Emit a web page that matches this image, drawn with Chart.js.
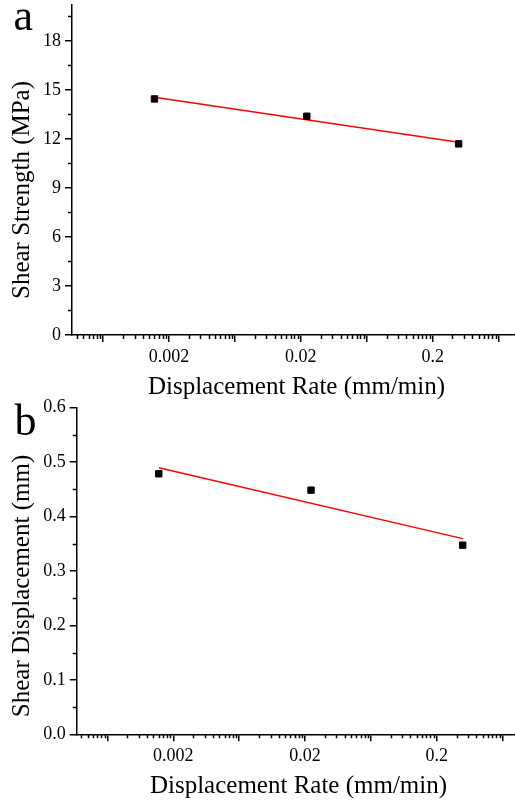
<!DOCTYPE html>
<html>
<head>
<meta charset="utf-8">
<script src="https://cdn.jsdelivr.net/npm/chart.js@4.4.1/dist/chart.umd.min.js"></script>
<style>
  body { margin: 0; background: #fff; }
  .panel { position: relative; width: 515px; height: 400px; }
  .panel.lower { height: 420px; margin-top: -20px; }
</style>
</head>
<body>
<div class="panel"><canvas id="chartA"></canvas></div>
<div class="panel lower"><canvas id="chartB"></canvas></div>
<script>
// displacement rates (mm/min)
const rates = [0.00155, 0.0222, 0.315]
const fitRates = [0.00155, 0.315]

// panel a
const shearStrength = [14.45, 13.39, 11.70]
const strengthFit = [14.55, 11.80]
const strengthTicks = [0, 3, 6, 9, 12, 15, 18]

// panel b
const shearDisp = [0.478, 0.448, 0.347]
const dispFit = [0.489, 0.359]
const dispTicks = [0.0, 0.1, 0.2, 0.3, 0.4, 0.5, 0.6]

// x axis ticks (every half decade, labels only on decades)
const xMajorTicks = [0.000632, 0.002, 0.00632, 0.02, 0.0632, 0.2, 0.632]
const xTickLabels = ['', '0.002', '', '0.02', '', '0.2', '']

const FONT = '"Liberation Serif", "Times New Roman", serif'

// minor ticks on the x axis, log-spaced inside each half decade
const xMinor = []
;[0.0002].concat(xMajorTicks).forEach(a => {
  for (let k = 2; k <= 9; k++) xMinor.push(a * Math.sqrt(k))
})

const between = (ticks) => ticks.slice(0, -1).map((t, i) => (t + ticks[i + 1]) / 2)
  .concat([ticks[ticks.length - 1] + (ticks[1] - ticks[0]) / 2])

const minorTicks = {
  id: 'minorTicks',
  afterDraw(chart, args, o) {
    const { ctx, chartArea, scales } = chart
    ctx.save()
    ctx.strokeStyle = '#000'
    ctx.lineWidth = 1.5
    ctx.beginPath()
    o.x.forEach(v => {
      const px = Math.round(scales.x.getPixelForValue(v)) + 0.5
      if (px < chartArea.left + 1 || px > chartArea.right) return
      ctx.moveTo(px, chartArea.bottom)
      ctx.lineTo(px, chartArea.bottom + 4)
    })
    o.y.forEach(v => {
      const py = Math.round(scales.y.getPixelForValue(v)) + 0.5
      if (py < chartArea.top || py > chartArea.bottom) return
      ctx.moveTo(chartArea.left - 4, py)
      ctx.lineTo(chartArea.left, py)
    })
    ctx.stroke()
    ctx.restore()
  }
}

const panelText = {
  id: 'panelText',
  afterDraw(chart, args, o) {
    const ctx = chart.ctx
    ctx.save()
    ctx.fillStyle = '#000'
    ctx.textBaseline = 'alphabetic'
    ctx.font = '44px ' + FONT
    ctx.textAlign = 'left'
    ctx.fillText(o.letter, o.letterX, o.letterY)
    ctx.font = '25px ' + FONT
    ctx.textAlign = 'center'
    ctx.fillText(o.xTitle, o.xTitleX, o.xTitleY)
    ctx.translate(o.yTitleX, o.yTitleY)
    ctx.rotate(-Math.PI / 2)
    ctx.fillText(o.yTitle, 0, 0)
    ctx.restore()
  }
}

const makeChart = (id, cfg) => {
  const points = rates.map((r, i) => ({ x: r, y: cfg.values[i] }))
  const fit = fitRates.map((r, i) => ({ x: r, y: cfg.fit[i] }))
  const axisGrid = { display: true, drawOnChartArea: false, drawTicks: true, tickLength: 7, color: '#000', lineWidth: 1.5 }
  return new Chart(document.getElementById(id), {
    type: 'scatter',
    data: {
      datasets: [{
        data: points,
        pointStyle: 'rect',
        pointRadius: 4.5,
        backgroundColor: '#000',
        borderColor: '#000',
        borderWidth: 1
      }, {
        data: fit,
        showLine: true,
        borderColor: '#ff0000',
        borderWidth: 1.4,
        pointRadius: 0
      }]
    },
    options: {
      responsive: true,
      maintainAspectRatio: false,
      animation: false,
      layout: { autoPadding: false, padding: { top: cfg.top, left: 0, right: 0, bottom: 0 } },
      plugins: {
        legend: { display: false },
        tooltip: { enabled: false },
        minorTicks: { x: xMinor, y: between(cfg.ticks) },
        panelText: cfg.text
      },
      scales: {
        x: {
          type: 'logarithmic',
          min: cfg.xMin,
          max: cfg.xMax,
          border: { color: '#000', width: 1.5 },
          grid: axisGrid,
          afterBuildTicks: (scale) => { scale.ticks = xMajorTicks.map(v => ({ value: v, major: false })) },
          afterFit: (scale) => {
            scale.height = cfg.xHeight
            scale.paddingLeft = 0
            scale.paddingRight = 0
          },
          ticks: {
            autoSkip: false,
            maxRotation: 0,
            padding: 4,
            color: '#000',
            font: { family: FONT, size: 18 },
            callback: (v, i) => xTickLabels[i]
          }
        },
        y: {
          min: 0,
          max: cfg.yMax,
          border: { color: '#000', width: 1.5 },
          grid: axisGrid,
          afterBuildTicks: (scale) => { scale.ticks = cfg.ticks.map(v => ({ value: v })) },
          afterFit: (scale) => {
            scale.width = cfg.yWidth
            scale.paddingTop = 0
            scale.paddingBottom = 0
          },
          ticks: {
            padding: 4,
            color: '#000',
            font: { family: FONT, size: 18 },
            callback: cfg.label
          }
        }
      }
    },
    plugins: [minorTicks, panelText]
  })
}

makeChart('chartA', {
  values: shearStrength,
  fit: strengthFit,
  ticks: strengthTicks,
  yMax: 20.2,
  top: 5,
  yWidth: 72,
  xHeight: 65,
  xMin: 0.000367,
  xMax: 0.843,
  label: (v) => String(v),
  text: {
    letter: 'a', letterX: 13.5, letterY: 30,
    xTitle: 'Displacement Rate (mm/min)', xTitleX: 296.5, xTitleY: 394,
    yTitle: 'Shear Strength (MPa)', yTitleX: 28.5, yTitleY: 190
  }
})

// lower canvas starts 20px higher so the top tick label is not cut
makeChart('chartB', {
  values: shearDisp,
  fit: dispFit,
  ticks: dispTicks,
  yMax: 0.6,
  top: 27.3,
  yWidth: 76.7,
  xHeight: 65.7,
  xMin: 0.000369,
  xMax: 0.786,
  label: (v) => v.toFixed(1),
  text: {
    letter: 'b', letterX: 14.5, letterY: 55,
    xTitle: 'Displacement Rate (mm/min)', xTitleX: 298.5, xTitleY: 413,
    yTitle: 'Shear Displacement (mm)', yTitleX: 28.5, yTitleY: 206
  }
})
</script>
</body>
</html>
